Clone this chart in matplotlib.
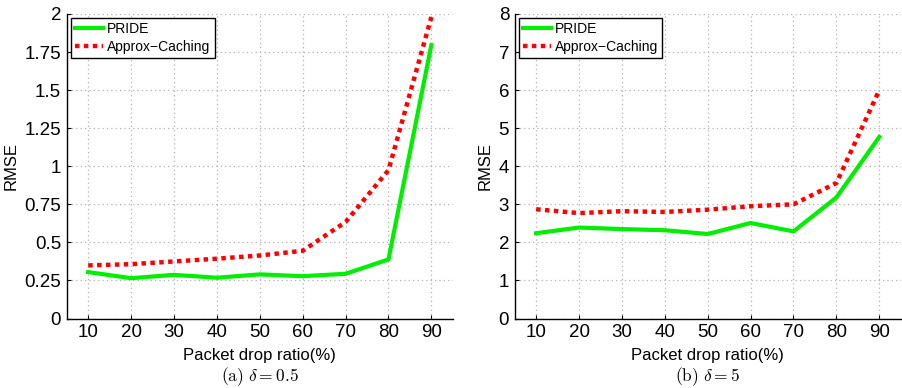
import matplotlib
matplotlib.use('Agg')
import matplotlib.pyplot as plt

plt.rcParams['font.family'] = ['Liberation Sans', 'DejaVu Sans']
plt.rcParams['mathtext.fontset'] = 'cm'

drop_ratio = [10, 20, 30, 40, 50, 60, 70, 80, 90]

# delta = 0.5
pride_a  = [0.305, 0.265, 0.287, 0.268, 0.290, 0.278, 0.294, 0.388, 1.796]
approx_a = [0.349, 0.357, 0.375, 0.393, 0.414, 0.445, 0.634, 0.974, 1.98]
yticks_a = [0, 0.25, 0.5, 0.75, 1, 1.25, 1.5, 1.75, 2]
ylabels_a = ['0', '0.25', '0.5', '0.75', '1', '1.25', '1.5', '1.75', '2']

# delta = 5
pride_b  = [2.24, 2.39, 2.35, 2.32, 2.22, 2.51, 2.29, 3.18, 4.77]
approx_b = [2.87, 2.77, 2.82, 2.80, 2.86, 2.95, 3.00, 3.56, 6.00]
yticks_b = [0, 1, 2, 3, 4, 5, 6, 7, 8]
ylabels_b = [str(v) for v in yticks_b]

captions = [r'$\mathrm{(a)}\ \delta = 0.5$', r'$\mathrm{(b)}\ \delta = 5$']


def draw(ax, pride, approx, yticks, ylabels, caption):
    ax.plot(drop_ratio, pride, color='#00ee00', lw=3, label='PRIDE', zorder=3)
    ax.plot(drop_ratio, approx, color='#ff0000', lw=3.2, dashes=(1, 1),
            dash_capstyle='butt', label='Approx\u2212Caching', zorder=3)
    ax.set_xlim(5, 95)
    ax.set_ylim(yticks[0], yticks[-1])
    ax.set_xticks(drop_ratio)
    ax.set_yticks(yticks)
    ax.set_yticklabels(ylabels)
    ax.tick_params(direction='in', length=3, labelsize=13.5, pad=4)
    ax.grid(True, color='#b0b0b0', linestyle=(0, (1, 2.5)), linewidth=0.9)
    for s in ('top', 'right'):
        ax.spines[s].set_visible(False)
    for s in ('left', 'bottom'):
        ax.spines[s].set_linewidth(1.0)
    ax.set_xlabel('Packet drop ratio(%)', fontsize=12, labelpad=5)
    ax.set_ylabel('RMSE', fontsize=12, labelpad=4)
    leg = ax.legend(loc='upper left', bbox_to_anchor=(0.011, 0.987),
                    borderaxespad=0, fancybox=False, fontsize=10,
                    handlelength=2.0, handletextpad=0.3, borderpad=0.3,
                    labelspacing=0.25, framealpha=1)
    leg.get_frame().set_edgecolor('black')
    leg.get_frame().set_linewidth(1.0)
    ax.text(0.5, -0.19, caption, transform=ax.transAxes, ha='center',
            va='center', fontsize=12.5)


fig = plt.figure(figsize=(9.02, 3.88), dpi=100)
ax1 = fig.add_axes([0.074, 0.179, 0.428, 0.785])
ax2 = fig.add_axes([0.5706, 0.179, 0.428, 0.785])

draw(ax1, pride_a, approx_a, yticks_a, ylabels_a, captions[0])
draw(ax2, pride_b, approx_b, yticks_b, ylabels_b, captions[1])

fig.savefig('out.png', dpi=100)
